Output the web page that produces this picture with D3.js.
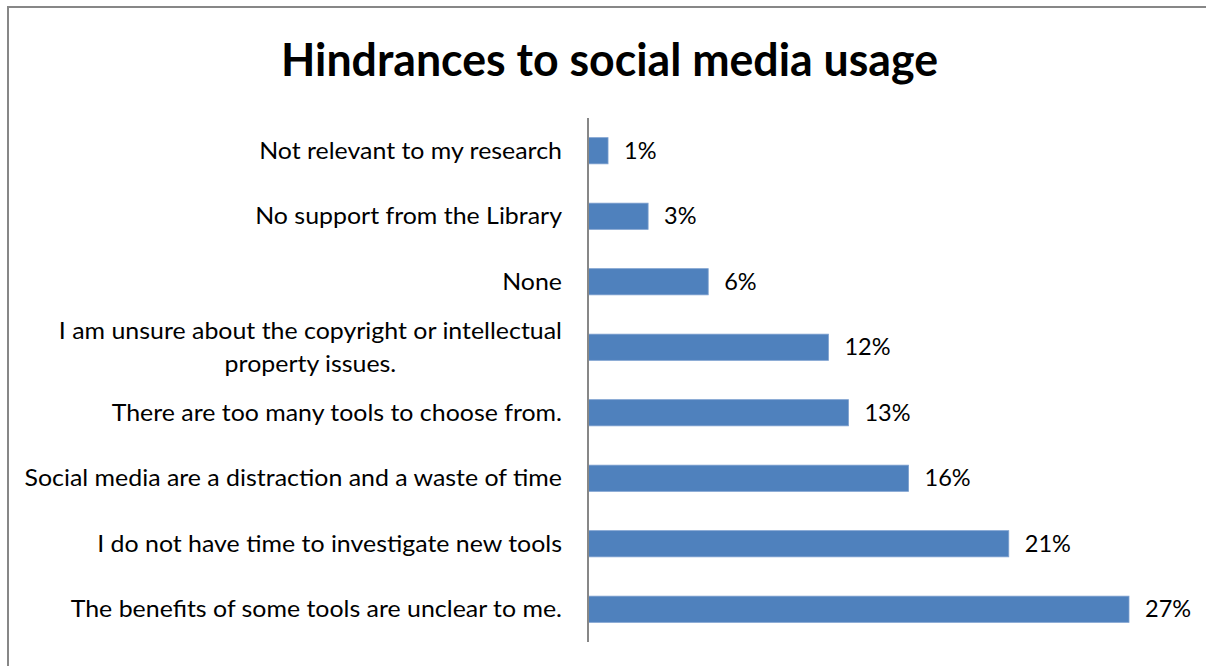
<!DOCTYPE html>
<html>
<head>
<meta charset="utf-8">
<script src="https://cdn.jsdelivr.net/npm/d3@7"></script>
<style>
  html, body { margin: 0; padding: 0; background: #fff; }
  svg { display: block; }
  text { font-family: Lato, "Open Sans", sans-serif; fill: #000; }
</style>
</head>
<body>
<svg id="chart" width="1206" height="666"></svg>
<script>
// Survey answers, listed top to bottom as drawn
const categories = [
  "Not relevant to my research",
  "No support from the Library",
  "None",
  "I am unsure about the copyright or intellectual|property issues.",
  "There are too many tools to choose from.",
  "Social media are a distraction and a waste of time",
  "I do not have time to investigate new tools",
  "The benefits of some tools are unclear to me."
];
// Share of respondents (%)
const values = [1, 3, 6, 12, 13, 16, 21, 27];
const chartTitle = "Hindrances to social media usage";

const W = 1206, H = 666;
const axisX = 588;
const labelRight = 562;
const svg = d3.select("#chart");

svg.append("rect").attr("width", W).attr("height", H).attr("fill", "#fff");

// chart-area frame (runs off the right and bottom edges)
svg.append("rect")
  .attr("x", 8).attr("y", 7)
  .attr("width", 1300).attr("height", 700)
  .attr("fill", "none").attr("stroke", "#878787").attr("stroke-width", 2);

const x = d3.scaleLinear().domain([0, 27]).range([axisX, 1129]);
const y = d3.scaleBand().domain(categories).range([118, 642]).paddingInner(0.6).paddingOuter(0.3);

// stretch text horizontally by a factor, keeping its anchor
function stretch(sel, factor) {
  sel.each(function() {
    const n = this.getComputedTextLength();
    d3.select(this).attr("textLength", n * factor).attr("lengthAdjust", "spacingAndGlyphs");
  });
}

// title
svg.append("text")
  .attr("x", 609.5).attr("y", 76)
  .attr("text-anchor", "middle")
  .attr("font-size", 46).attr("font-weight", 700)
  .attr("textLength", 657).attr("lengthAdjust", "spacingAndGlyphs")
  .text(chartTitle);

// bars
svg.append("g").selectAll("rect")
  .data(values)
  .join("rect")
  .attr("x", x(0))
  .attr("y", (d, i) => y(categories[i]))
  .attr("width", d => x(d) - x(0))
  .attr("height", y.bandwidth())
  .attr("fill", "#4F81BD")
  .attr("stroke", "#7EA1CF").attr("stroke-width", 0.8);

// vertical category axis
const yAxis = d3.axisLeft(y).tickSize(0).tickFormat("");
const ag = svg.append("g").attr("transform", `translate(${axisX},0)`).call(yAxis);
ag.select(".domain").attr("stroke", "#878787").attr("stroke-width", 2).attr("d", `M0,118V642`);

// category labels (right aligned, wrapped lines centred on each other)
const labelFont = 23.5;
const lineGap = 33;
const labelStretch = 1.06;
const labels = svg.append("g").selectAll("text")
  .data(categories)
  .join("text")
  .attr("font-size", labelFont)
  .attr("text-anchor", "end")
  .each(function(c) {
    const lines = c.split("|");
    const cy = y(c) + y.bandwidth() / 2;
    const el = d3.select(this);
    const top = cy - (lines.length - 1) * lineGap / 2;
    lines.forEach((ln, k) => {
      el.append("tspan").attr("x", labelRight).attr("y", top + k * lineGap).attr("dy", "0.35em").text(ln);
    });
  });

labels.each(function() {
  const spans = d3.select(this).selectAll("tspan").nodes();
  const widths = spans.map(s => s.getComputedTextLength());
  const maxW = d3.max(widths);
  spans.forEach((s, k) => {
    d3.select(s).attr("textLength", widths[k] * labelStretch).attr("lengthAdjust", "spacingAndGlyphs");
    if (spans.length > 1) {
      const shift = (maxW - widths[k]) * labelStretch / 2;
      d3.select(s).attr("x", labelRight - shift);
    }
  });
});

// value labels
svg.append("g").selectAll("text")
  .data(values)
  .join("text")
  .attr("x", d => x(d) + 16)
  .attr("y", (d, i) => y(categories[i]) + y.bandwidth() / 2)
  .attr("dy", "0.35em")
  .attr("font-size", labelFont)
  .text(d => d + "%")
  .call(stretch, 1.0);
</script>
</body>
</html>
